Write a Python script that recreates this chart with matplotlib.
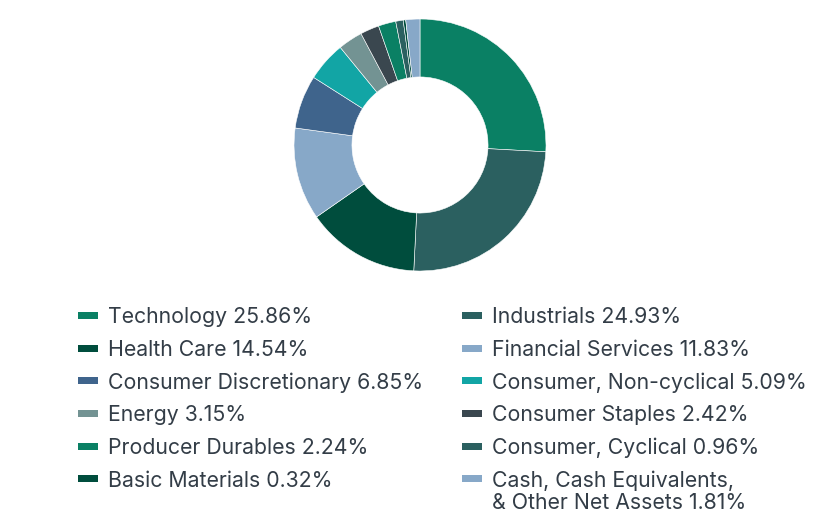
import matplotlib
matplotlib.use("Agg")
import matplotlib.pyplot as plt
from matplotlib.patches import Rectangle

categories = ["Technology", "Industrials", "Health Care", "Financial Services",
              "Consumer Discretionary", "Consumer, Non-cyclical", "Energy",
              "Consumer Staples", "Producer Durables", "Consumer, Cyclical",
              "Basic Materials", "Cash, Cash Equivalents,\n& Other Net Assets"]
values = [25.86, 24.93, 14.54, 11.83, 6.85, 5.09, 3.15, 2.42, 2.24, 0.96, 0.32, 1.81]
colors = ["#0a8064", "#2b6060", "#004d3d", "#87a8c8", "#3f648c", "#12a5a5",
          "#739393", "#3a474f", "#0a8064", "#2b6060", "#004d3d", "#87a8c8"]

W, H = 840, 528
fig = plt.figure(figsize=(W / 100, H / 100), dpi=100)

cx, cy, R = 420, 145, 126
ax = fig.add_axes([(cx - R) / W, (H - cy - R) / H, 2 * R / W, 2 * R / H])
ax.pie(values, colors=colors, startangle=90, counterclock=False, radius=1,
       wedgeprops=dict(width=0.46, linewidth=0.4, edgecolor="white"))
ax.set_xlim(-1, 1)
ax.set_ylim(-1, 1)
ax.axis("off")

text_color = "#333d47"
font = ["Inter", "DejaVu Sans"]
fs = 15.3
row0 = 315.3
dy = 32.7
cols = [(78, 108), (462, 492)]
for i, (cat, v, c) in enumerate(zip(categories, values, colors)):
    col = i % 2
    row = i // 2
    mx, tx = cols[col]
    yc = row0 + row * dy
    fig.add_artist(Rectangle((mx / W, (H - yc - 3.5) / H), 20 / W, 7 / H,
                             transform=fig.transFigure, color=c, lw=0))
    label = f"{cat} {v:.2f}%"
    lines = label.split("\n")
    for j, ln in enumerate(lines):
        base = yc + 8.0 + j * 22.4
        fig.text(tx / W, (H - base) / H, ln, family=font, fontsize=fs,
                 color=text_color, va="baseline", ha="left")

fig.savefig("out.png", dpi=100)
